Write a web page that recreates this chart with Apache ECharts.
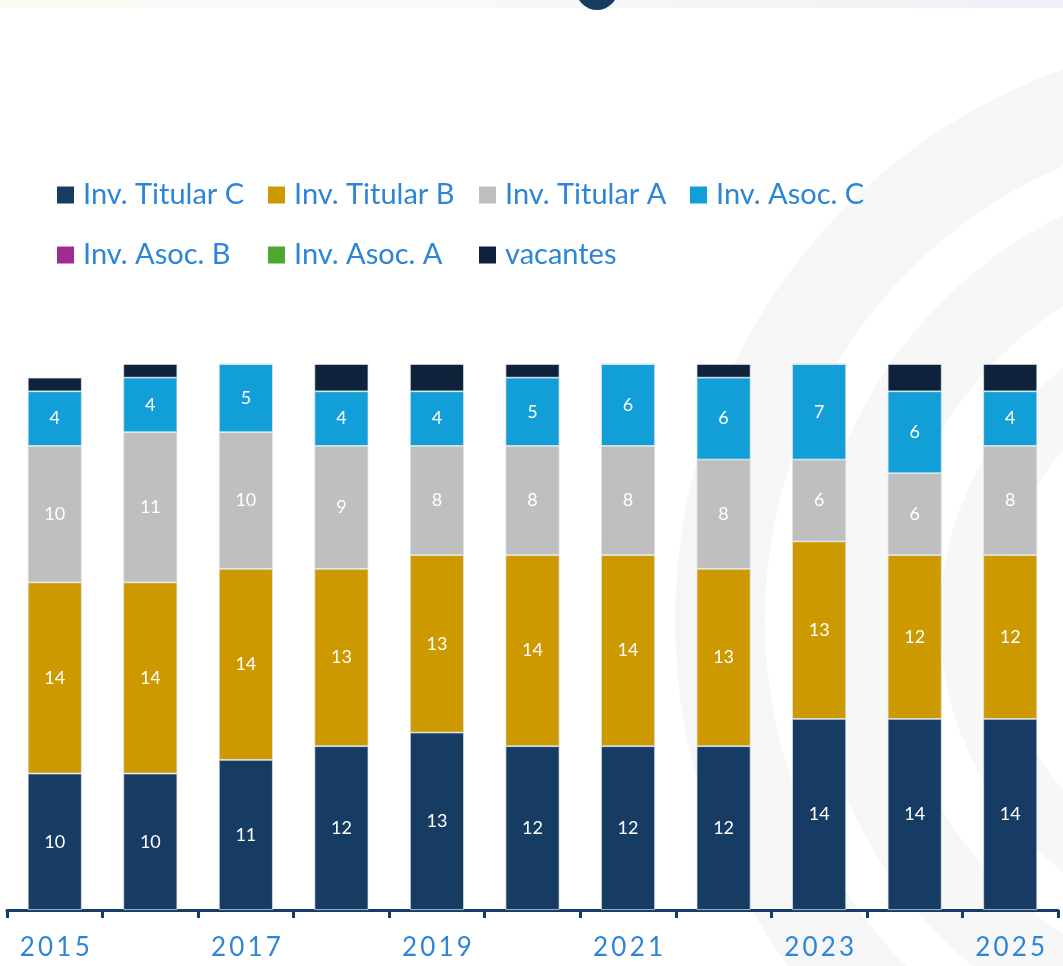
<!DOCTYPE html>
<html>
<head>
<meta charset="utf-8">
<script src="https://cdn.jsdelivr.net/npm/echarts@6/dist/echarts.min.js"></script>
<style>
  html, body { margin: 0; padding: 0; background: #ffffff; }
  #chart { width: 1063px; height: 966px; }
</style>
</head>
<body>
<div id="chart"></div>
<script>
// ---- Data ----
const years = ['2015','2016','2017','2018','2019','2020','2021','2022','2023','2024','2025'];
const titularC = [10, 10, 11, 12, 13, 12, 12, 12, 14, 14, 14];
const titularB = [14, 14, 14, 13, 13, 14, 14, 13, 13, 12, 12];
const titularA = [10, 11, 10, 9, 8, 8, 8, 8, 6, 6, 8];
const asocC    = [4, 4, 5, 4, 4, 5, 6, 6, 7, 6, 4];
const asocB    = [0, 0, 0, 0, 0, 0, 0, 0, 0, 0, 0];
const asocA    = [0, 0, 0, 0, 0, 0, 0, 0, 0, 0, 0];
const vacantes = [1, 1, 0, 2, 2, 1, 0, 1, 0, 2, 2];

const seriesNames = ['Inv. Titular C','Inv. Titular B','Inv. Titular A','Inv. Asoc. C','Inv. Asoc. B','Inv. Asoc. A','vacantes'];
const seriesData = [titularC, titularB, titularA, asocC, asocB, asocA, vacantes];
const seriesColors = ['#173c63','#cc9900','#bfbfbf','#129fd7','#a02b93','#4ea72e','#0f223c'];
const showLabel = [true, true, true, true, true, true, false];

const FONT = 'Lato';
const BLUE_TEXT = '#2d85d5';

const chart = echarts.init(document.getElementById('chart'), null, { renderer: 'canvas' });

const series = seriesNames.map((name, i) => ({
  name: name,
  type: 'bar',
  stack: 'total',
  barWidth: 54,
  data: seriesData[i],
  itemStyle: {
    color: seriesColors[i],
    borderColor: 'rgba(225,230,236,0.9)',
    borderWidth: seriesData[i].some(v => v > 0) ? 0.8 : 0
  },
  label: {
    show: showLabel[i],
    position: 'inside',
    color: '#ffffff',
    fontFamily: FONT,
    fontSize: 18,
    formatter: p => (p.value > 0 ? String(p.value) : '')
  },
  emphasis: { disabled: true }
}));

const legendText = {
  color: BLUE_TEXT,
  fontFamily: FONT,
  fontSize: 29,
  width: 185,
  lineHeight: 30,
  padding: [0, 0, 0, 4]
};

function legendCfg(names, top) {
  return {
    data: names,
    left: 57, top: top,
    orient: 'horizontal',
    itemWidth: 17, itemHeight: 17, itemGap: 0,
    icon: 'rect',
    padding: 0,
    selectedMode: false,
    itemStyle: { borderWidth: 0 },
    textStyle: legendText
  };
}

const option = {
  backgroundColor: '#ffffff',
  animation: false,
  graphic: [
    { type: 'rect', silent: true, z: -10, shape: { x: 0, y: 0, width: 1063, height: 8 },
      style: { fill: new echarts.graphic.LinearGradient(0, 0, 1, 0, [
        { offset: 0, color: '#fbfaf3' }, { offset: 0.5, color: '#f6f8fb' }, { offset: 1, color: '#eef0f5' }]) } },
    { type: 'circle', silent: true, z: -9, shape: { cx: 597, cy: -11, r: 21 }, style: { fill: '#173c63' } },
    { type: 'circle', silent: true, z: -10, shape: { cx: 1260, cy: 620, r: 540 }, style: { fill: 'none', stroke: '#f6f6f6', lineWidth: 90 } },
    { type: 'circle', silent: true, z: -10, shape: { cx: 1260, cy: 620, r: 410 }, style: { fill: 'none', stroke: '#f7f7f7', lineWidth: 80 } },
    { type: 'circle', silent: true, z: -10, shape: { cx: 1260, cy: 620, r: 290 }, style: { fill: 'none', stroke: '#f7f7f7', lineWidth: 60 } }
  ],
  legend: [
    legendCfg(seriesNames.slice(0, 4), 180),
    legendCfg(seriesNames.slice(4), 240)
  ],
  grid: { left: 7, right: 5, top: 364, bottom: 56, containLabel: false },
  xAxis: {
    type: 'category',
    data: years,
    boundaryGap: true,
    axisLine: { show: true, lineStyle: { color: '#173c63', width: 3 } },
    axisTick: { show: true, interval: 0, length: 8, lineStyle: { color: '#173c63', width: 3 } },
    axisLabel: {
      interval: 1,
      color: BLUE_TEXT,
      fontFamily: FONT,
      fontSize: 26,
      margin: 25,
      formatter: v => v.split('').map(c => '{d|' + c + '}').join(''),
      rich: {
        d: { color: BLUE_TEXT, fontFamily: FONT, fontSize: 26, padding: [0, 1.6, 0, 1.6] }
      }
    }
  },
  yAxis: {
    type: 'value',
    min: 0, max: 40,
    show: false,
    splitLine: { show: false }
  },
  series: series
};

chart.setOption(option);
</script>
</body>
</html>
